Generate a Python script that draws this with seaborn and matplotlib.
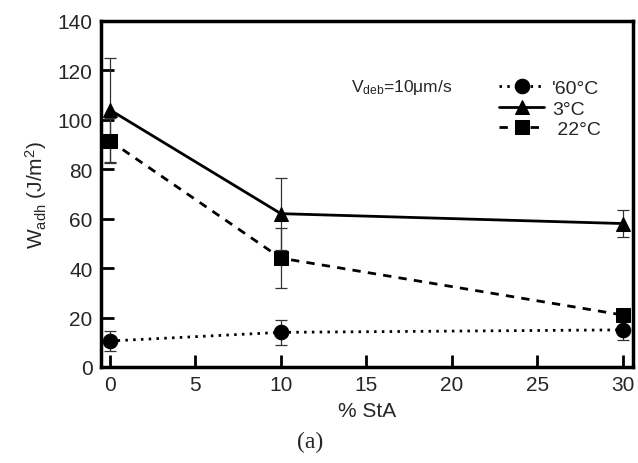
import pandas as pd
import numpy as np
import matplotlib
matplotlib.use("Agg")
import matplotlib.pyplot as plt
import seaborn as sns

# values
sta = [0, 10, 30]
labels = ["'60°C", "3°C", " 22°C"]
w_m60 = [10.5, 14, 15]
err_m60 = [4, 5, 4]
w_3 = [104, 62, 58]
err_3 = [21, 14.5, 5.5]
w_22 = [91.5, 44, 21]
err_22 = [9, 12, 2]

sns.set_theme(style="ticks")
plt.rcParams['font.family'] = ['Liberation Sans', 'DejaVu Sans']
plt.rcParams['mathtext.fontset'] = 'custom'
plt.rcParams['mathtext.rm'] = 'Liberation Sans'
plt.rcParams['mathtext.it'] = 'Liberation Sans'

fig = plt.figure(figsize=(6.38, 4.64), dpi=100)
ax = fig.add_axes([0.158, 0.207, 0.834, 0.746])

series = [(w_m60, err_m60, 'o', (0, (0.9, 1.9))), (w_3, err_3, '^', '-'),
          (w_22, err_22, 's', (0, (3, 2.6)))]
for (vals, errs, mk, ls), lab in zip(series, labels):
    df = pd.DataFrame({'sta': sta, 'w': vals})
    ax.errorbar(df['sta'], df['w'], yerr=errs, fmt='none', ecolor='#333333',
                elinewidth=0.9, capsize=4, capthick=0.9, zorder=1)
    sns.lineplot(data=df, x='sta', y='w', ax=ax, color='black', linestyle=ls,
                 linewidth=2, marker=mk, markersize=10.5, markeredgecolor='black',
                 label=lab, zorder=3)

ax.set_xlim(-0.53, 30.58)
ax.set_ylim(0, 140)
ax.set_xticks([0, 5, 10, 15, 20, 25, 30])
ax.set_yticks(np.arange(0, 141, 20))
ax.tick_params(direction='in', length=9, width=2, labelsize=15, pad=6, color='black')
for s in ax.spines.values():
    s.set_linewidth(2.5)
    s.set_color('black')
    s.set_visible(True)

ax.set_xlabel("% StA", fontsize=15, labelpad=5)
ax.set_ylabel(r"W$_{\rm adh}$ (J/m$^2$)", fontsize=15, labelpad=6)

ax.text(0.47, 0.81, r"V$_{\rm deb}$=10$\mu$m/s", transform=ax.transAxes,
        fontsize=12.5, va='center')

leg = ax.legend(loc='upper right', bbox_to_anchor=(0.965, 0.87), frameon=False,
                fontsize=14, handlelength=2.3, handletextpad=0.4, labelspacing=0.15,
                borderpad=0.2)

fig.text(0.486, 0.035, "(a)", fontsize=17, family='Liberation Serif', ha='center')

fig.savefig("out.png", dpi=100)
